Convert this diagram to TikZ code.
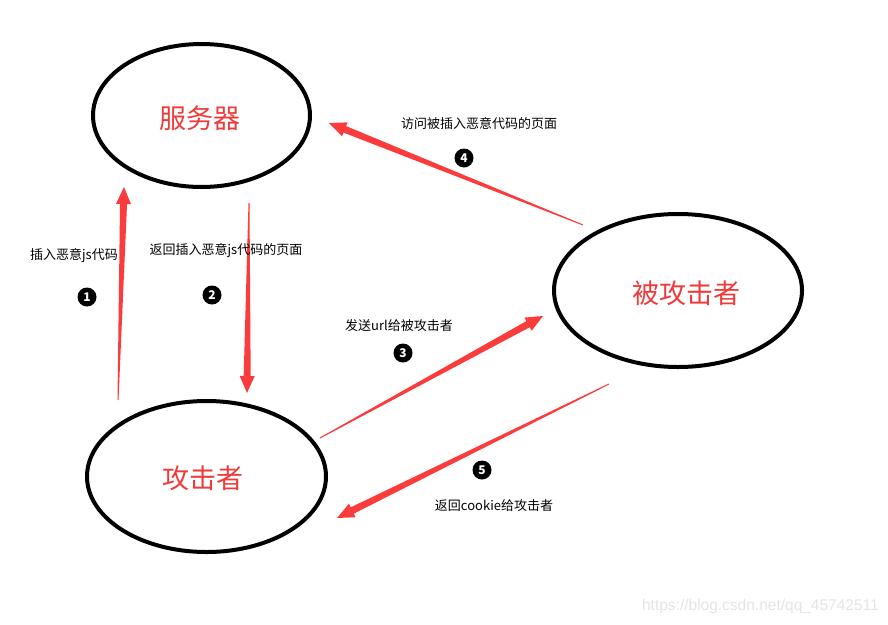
\documentclass[tikz,border=0pt]{standalone}
\usepackage{fontspec}
\usepackage{tikz}
\usetikzlibrary{shapes.geometric,calc}
\newfontfamily\cjk{Noto Sans CJK SC}
\newfontfamily\wmfont{Liberation Sans}
\definecolor{arrowred}{RGB}{252,60,60}
\definecolor{labelred}{RGB}{240,58,58}
\definecolor{wmgray}{RGB}{228,228,228}
\tikzset{
	party/.style={ellipse, draw=black, line width=4pt, inner sep=0pt,
		text=labelred, font=\cjk\fontsize{27pt}{30pt}\selectfont},
	msg/.style={font=\cjk\fontsize{13pt}{15pt}\selectfont, inner sep=0pt},
	stepno/.style={circle, fill=black, text=white, minimum size=19pt, inner sep=0pt,
		font=\cjk\fontsize{12pt}{13pt}\selectfont\bfseries},
}
% tapered red arrow from #1 (tail) to #2 (tip)
\newcommand{\redarrow}[2]{%
	\coordinate (hb) at ($(#2)!17pt!(#1)$);
	\fill[arrowred] ($(#1)!0.5pt!90:(#2)$) -- ($(hb)!3.5pt!90:(#2)$) -- ($(hb)!7.5pt!90:(#2)$)
		-- (#2) -- ($(hb)!7.5pt!-90:(#2)$) -- ($(hb)!3.5pt!-90:(#2)$) -- ($(#1)!0.5pt!-90:(#2)$) -- cycle;}
\begin{document}
\begin{tikzpicture}[x=1pt, y=-1pt]
	\useasboundingbox (0,0) rectangle (888,624);
	
	\node[party, minimum width=217pt, minimum height=143pt] (server) at (201.5,115.5) {};
	\node[text=labelred, font=\cjk\fontsize{27pt}{30pt}\selectfont] at (200,118) {服务器};
	\node[party, minimum width=248pt, minimum height=153pt] (victim) at (678,290.5) {};
	\node[text=labelred, font=\cjk\fontsize{27pt}{30pt}\selectfont] at (686,293) {被攻击者};
	\node[party, minimum width=239pt, minimum height=151pt] (attacker) at (206.5,476.5) {};
	\node[text=labelred, font=\cjk\fontsize{27pt}{30pt}\selectfont] at (203,478) {攻击者};
	
	% free ends of the arrows
	\coordinate (a1) at (118,400);  \coordinate (b1) at (124,187);
	\coordinate (a2) at (249,203);  \coordinate (b2) at (247,393);
	\coordinate (a3) at (320,438);  \coordinate (b3) at (543,316);
	\coordinate (a4) at (583,225);  \coordinate (b4) at (329,123);
	\coordinate (a5) at (609,384);  \coordinate (b5) at (337,518);
	
	\redarrow{a1}{b1}
	\redarrow{a2}{b2}
	\redarrow{a3}{b3}
	\redarrow{a4}{b4}
	\redarrow{a5}{b5}
	
	\node[msg] (m1) at (74,256) {插入恶意js代码};
	\node[stepno] (n1) at (87,297) {1};
	\node[msg] (m2) at (226,251) {返回插入恶意js代码的页面};
	\node[stepno] (n2) at (212,295) {2};
	\node[msg] (m3) at (399,326) {发送url给被攻击者};
	\node[stepno] (n3) at (403,353) {3};
	\node[msg] (m4) at (479,124) {访问被插入恶意代码的页面};
	\node[stepno] (n4) at (464,158) {4};
	\node[stepno] (n5) at (482,470) {5};
	\node[msg] (m5) at (494,506) {返回cookie给攻击者};
	
	\node[anchor=east, text=wmgray, font=\wmfont\fontsize{15.5pt}{17pt}\selectfont, inner sep=0pt] (wm) at (879,606) {https://blog.csdn.net/qq\_45742511};
\end{tikzpicture}
\end{document}
